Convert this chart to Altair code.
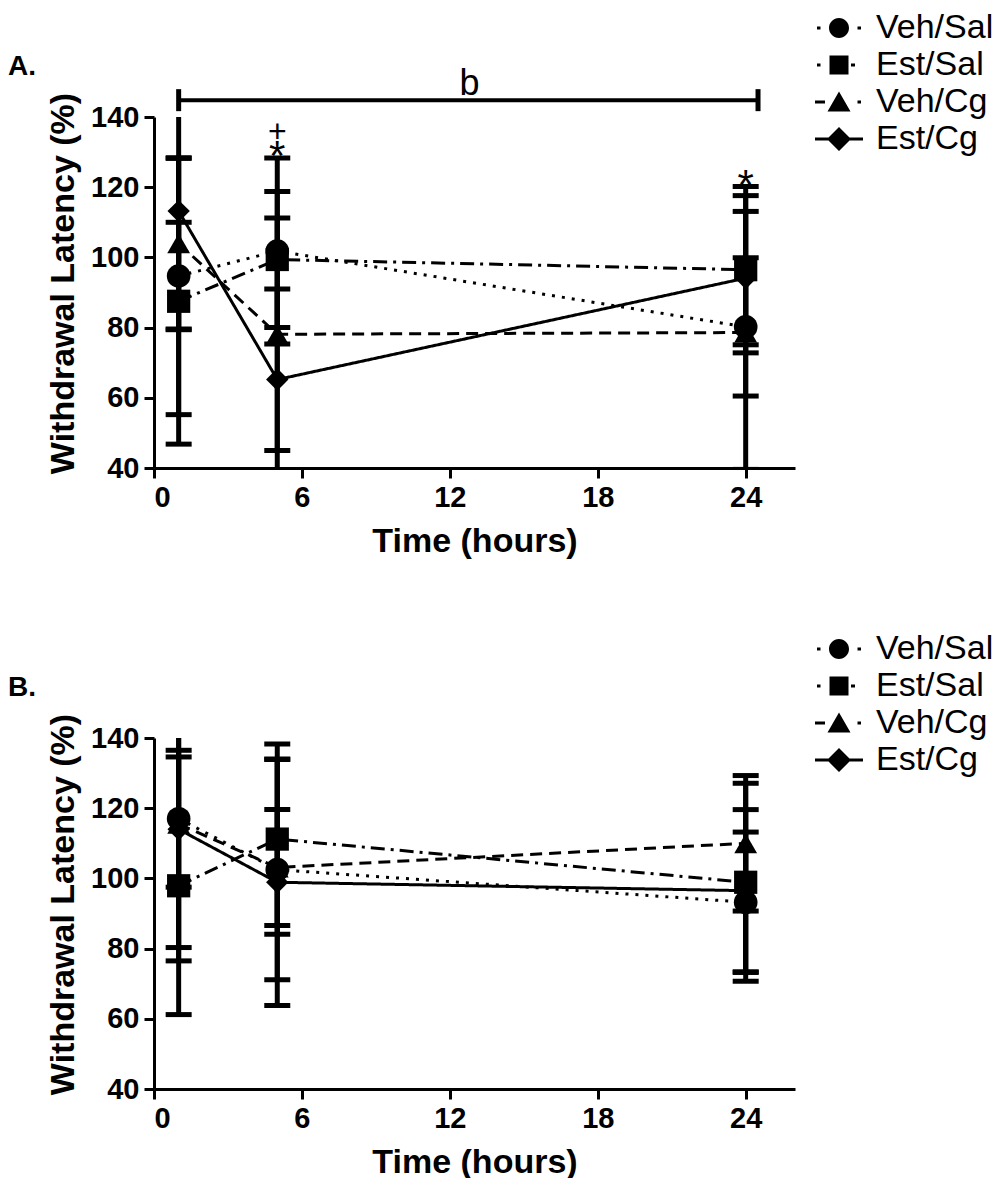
import altair as alt
import pandas as pd

FONT = "Liberation Sans"

groups = ["Veh/Sal", "Est/Sal", "Veh/Cg", "Est/Cg"]
times = [1, 5, 24]

# Panel A: mean and error (SD) per group at 1, 5, 24 h
a_veh_sal_mean = [94.7, 101.8, 80.2]
a_est_sal_mean = [87.5, 99.4, 96.5]
a_veh_cg_mean = [104.0, 78.1, 78.6]
a_est_cg_mean = [113.2, 65.2, 94.1]
a_veh_sal_err = [15.3, 26.5, 19.7]
a_est_sal_err = [40.7, 19.4, 23.7]
a_veh_cg_err = [24.4, 33.1, 39.0]
a_est_cg_err = [58.0, 25.8, 19.0]

# Panel B
b_veh_sal_mean = [117.0, 102.5, 93.2]
b_est_sal_mean = [97.9, 111.2, 98.9]
b_veh_cg_mean = [115.5, 103.1, 110.0]
b_est_cg_mean = [114.0, 98.9, 96.5]
b_veh_sal_err = [19.5, 31.4, 20.0]
b_est_sal_err = [36.7, 27.1, 28.2]
b_veh_cg_err = [35.2, 16.5, 19.3]
b_est_cg_err = [37.5, 35.1, 23.1]

# Panel A annotations
plus_text = ["+"]
plus_time = [5]
plus_level = [133.0]
star_text = ["*", "*"]
star_time = [5, 24]
star_level = [125.0, 116.6]
bracket_start = [1]
bracket_end = [24.5]
bracket_level = [144.8]
bracket_label = ["b"]
bracket_label_time = [12.8]
bracket_label_level = [146.3]

x_ticks = [0, 6, 12, 18, 24]
y_ticks = [40, 60, 80, 100, 120, 140]

shape_range = ["circle", "square", "triangle-up", "diamond"]
size_range = [560, 500, 700, 750]
dash_range = [[3, 7], [14, 6, 3, 6], [12, 7], [1, 0]]

legend_paths = [
    "M-2.2,-0.15L-1.85,-0.15L-1.85,0.15L-2.2,0.15Z M1.85,-0.15L2.2,-0.15L2.2,0.15L1.85,0.15Z "
    "M1,0A1,1 0 1,1 -1,0A1,1 0 1,1 1,0Z",
    "M-2.2,-0.15L-1.85,-0.15L-1.85,0.15L-2.2,0.15Z M-0.95,-0.95L0.95,-0.95L0.95,0.95L-0.95,0.95Z "
    "M1.2,-0.15L1.6,-0.15L1.6,0.15L1.2,0.15Z",
    "M-2.4,-0.15L-1.4,-0.15L-1.4,0.15L-2.4,0.15Z M0,-1.05L1.15,0.95L-1.15,0.95Z "
    "M1.85,-0.15L2.2,-0.15L2.2,0.15L1.85,0.15Z",
    "M-2.4,-0.15L-1.0,-0.15L-1.0,0.15L-2.4,0.15Z M1.0,-0.15L2.4,-0.15L2.4,0.15L1.0,0.15Z "
    "M0,-1.2L1.2,0L0,1.2L-1.2,0Z",
]


def panel_frame(means, errs):
    rows = []
    for g, m, e in zip(groups, means, errs):
        for t, mv, ev in zip(times, m, e):
            rows.append({"group": g, "time": t, "mean": mv, "lo": mv - ev, "hi": mv + ev})
    return pd.DataFrame(rows)


def cap_frame(df):
    lo = df[["group", "time", "lo"]].rename(columns={"lo": "value"})
    hi = df[["group", "time", "hi"]].rename(columns={"hi": "value"})
    return pd.concat([lo, hi], ignore_index=True)


x_scale = alt.Scale(domain=[0, 26], nice=False, zero=False)
y_scale = alt.Scale(domain=[40, 140], nice=False, zero=False)

axis_common = dict(
    domainColor="black", domainWidth=3, tickColor="black", tickWidth=3, tickSize=10,
    labelFont=FONT, labelFontWeight="bold", labelFontSize=29, labelColor="black",
    titleFont=FONT, titleFontWeight="bold", titleColor="black", grid=False,
)
x_axis = alt.Axis(values=x_ticks, labelPadding=5, titlePadding=12, titleFontSize=34, **axis_common)
y_axis = alt.Axis(values=y_ticks, labelPadding=5, titlePadding=10, titleFontSize=34, titleY=166,
                  **axis_common)

X_TITLE = "Time (hours)"
Y_TITLE = "Withdrawal Latency (%)"


def xq(field="time"):
    return alt.X(f"{field}:Q", scale=x_scale, axis=x_axis, title=X_TITLE)


def yq(field):
    return alt.Y(f"{field}:Q", scale=y_scale, axis=y_axis, title=Y_TITLE)


def make_panel(means, errs, label, extra=()):
    df = panel_frame(means, errs)
    caps = cap_frame(df)
    base = alt.Chart(df)
    bars = base.mark_rule(color="black", strokeWidth=5, clip=True).encode(
        x=xq(), y=yq("lo"), y2="hi:Q"
    )
    capm = alt.Chart(caps).mark_tick(
        color="black", orient="horizontal", size=26, thickness=5, clip=True, opacity=1
    ).encode(x=xq(), y=yq("value"))
    lines = base.mark_line(color="black", strokeWidth=3).encode(
        x=xq(), y=yq("mean"), detail="group:N", order="time:Q",
        strokeDash=alt.StrokeDash("group:N", scale=alt.Scale(domain=groups, range=dash_range), legend=None),
    )
    pts = base.mark_point(filled=True, color="black", opacity=1, strokeWidth=0).encode(
        x=xq(), y=yq("mean"),
        shape=alt.Shape("group:N", scale=alt.Scale(domain=groups, range=shape_range), legend=None),
        size=alt.Size("group:N", scale=alt.Scale(domain=groups, range=size_range), legend=None),
    )
    leg = base.transform_filter("false").mark_point(
        filled=True, color="black", opacity=1, strokeWidth=0
    ).encode(
        x=xq(), y=yq("mean"),
        shape=alt.Shape(
            "group:N",
            scale=alt.Scale(domain=groups, range=legend_paths),
            legend=alt.Legend(
                orient="none", legendX=654, legendY=-106, title=None,
                labelFont=FONT, labelFontSize=34, labelColor="black",
                symbolSize=400, symbolOffset=14, labelOffset=20, rowPadding=3,
                symbolStrokeWidth=0, symbolFillColor="black", symbolOpacity=1, padding=0,
            ),
        ),
    )
    layers = [bars, capm, lines, pts, *extra, leg]
    return alt.layer(*layers).resolve_scale(shape="independent", size="independent").properties(
        width=641, height=351,
        title=alt.TitleParams(
            text=label, anchor="start", frame="group", dx=-146, dy=70, offset=0,
            font=FONT, fontSize=28, fontWeight="bold", color="black",
        ),
    )


plus_df = pd.DataFrame({"text": plus_text, "time": plus_time, "value": plus_level})
star_df = pd.DataFrame({"text": star_text, "time": star_time, "value": star_level})
br_df = pd.DataFrame({"start": bracket_start, "end": bracket_end, "level": bracket_level})
br_caps = pd.DataFrame({"time": bracket_start + bracket_end, "level": bracket_level * 2})
br_lab = pd.DataFrame({"text": bracket_label, "time": bracket_label_time, "level": bracket_label_level})

plus_layer = alt.Chart(plus_df).mark_text(
    font=FONT, fontSize=32, color="black", baseline="alphabetic", align="center"
).encode(x=xq(), y=yq("value"), text="text:N")
star_layer = alt.Chart(star_df).mark_text(
    font=FONT, fontSize=42, color="black", baseline="alphabetic", align="center"
).encode(x=xq(), y=yq("value"), text="text:N")
br_line = alt.Chart(br_df).mark_rule(color="black", strokeWidth=4).encode(
    x=xq("start"), x2="end:Q", y=yq("level")
)
br_cap = alt.Chart(br_caps).mark_tick(color="black", orient="vertical", size=22, thickness=5, opacity=1).encode(
    x=xq(), y=yq("level")
)
br_text = alt.Chart(br_lab).mark_text(
    font=FONT, fontSize=36, color="black", baseline="alphabetic", align="center"
).encode(x=xq(), y=yq("level"), text="text:N")

panel_a = make_panel(
    [a_veh_sal_mean, a_est_sal_mean, a_veh_cg_mean, a_est_cg_mean],
    [a_veh_sal_err, a_est_sal_err, a_veh_cg_err, a_est_cg_err],
    "A.", extra=(br_line, br_cap, br_text, plus_layer, star_layer),
)
panel_b = make_panel(
    [b_veh_sal_mean, b_est_sal_mean, b_veh_cg_mean, b_est_cg_mean],
    [b_veh_sal_err, b_est_sal_err, b_veh_cg_err, b_est_cg_err],
    "B.",
)

chart = alt.vconcat(panel_a, panel_b, spacing=270, bounds="flush").properties(
    padding={"top": 3, "left": 0, "right": 0, "bottom": 0}, background="white"
).configure_view(stroke=None)

chart.save("out.html", embed_options={"renderer": "svg", "actions": False})
